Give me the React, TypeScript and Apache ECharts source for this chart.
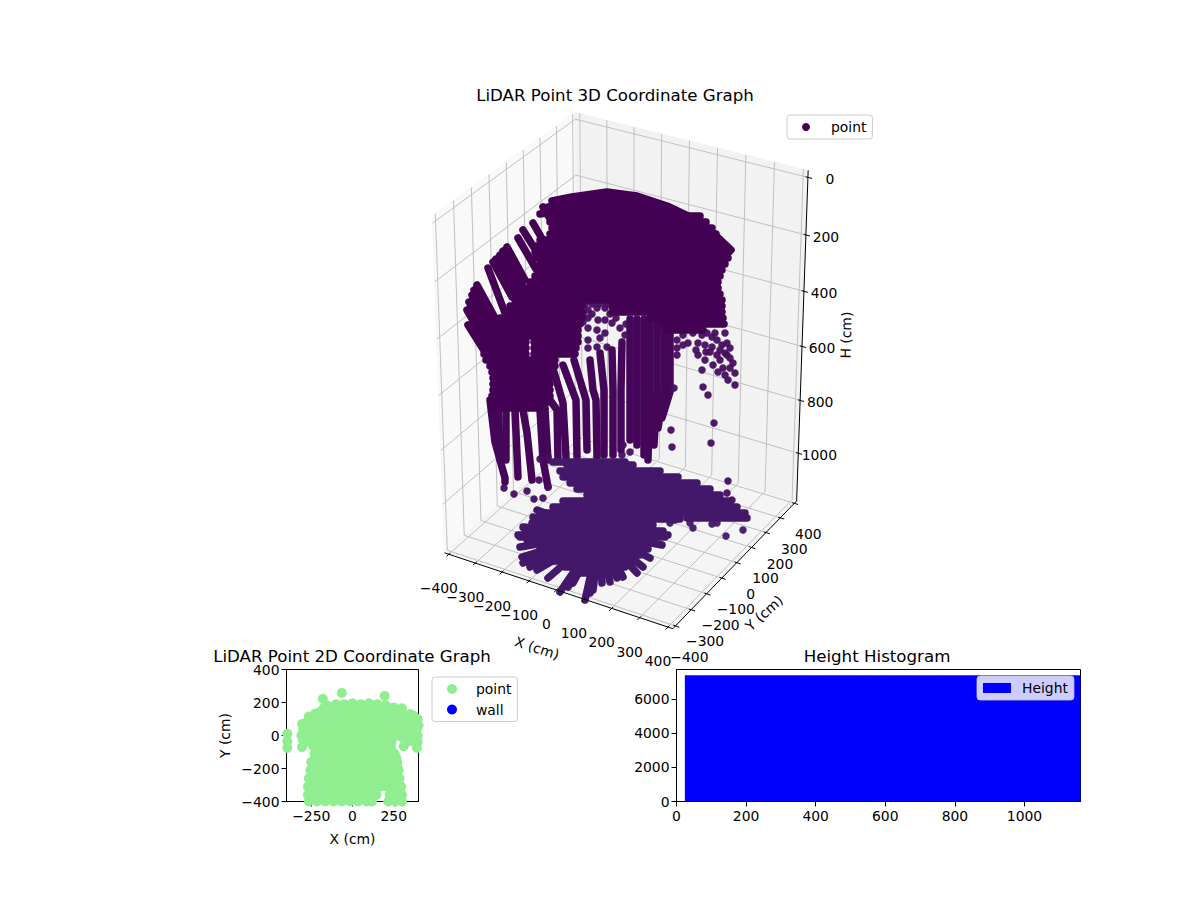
import React, { useEffect, useRef } from 'react';
import * as echarts from 'echarts';

const FONT = 'DejaVu Sans';

// tick values
const xTicks3d = [-400, -300, -200, -100, 0, 100, 200, 300, 400];
const yTicks3d = [-400, -300, -200, -100, 0, 100, 200, 300, 400];
const hTicks3d = [0, 200, 400, 600, 800, 1000];
const xTicks2d = [-250, 0, 250];
const histXTicks = [0, 200, 400, 600, 800, 1000];
const histYTicks = [0, 2000, 4000, 6000];

// histogram: one wide bin
const histEdges = [24, 1161];
const histCounts = [7386];

// The picture only gives the 3D cloud after projection, so its runs of touching
// points and its loose points are kept in projected view units [u, v].
const ceilingStrands: number[][][] = [
  [[152, 449], [172, 453], [207, 458], [237, 454], [267, 444], [290, 433], [312, 418], [331, 400]],
  [[148, 443], [172, 447], [207, 452], [237, 448], [265, 438], [288, 427], [308, 412], [326, 395]],
  [[140, 436], [172, 441], [207, 446], [237, 442], [263, 432], [285, 421], [304, 406], [322, 388]],
  [[143, 443], [160, 415]], [[133, 427], [160, 380]], [[123, 420], [145, 385]], [[118, 412], [136, 381]],
  [[107, 403], [125, 370]], [[103, 399], [122, 365]], [[100, 395], [120, 360]], [[96, 391], [116, 357]], [[93, 388], [112, 353]], [[88, 382], [105, 337]],
  [[77, 365], [100, 323]], [[74, 360], [98, 315]], [[72, 355], [97, 307]], [[69, 348], [95, 302]], [[67, 340], [92, 297]], [[68, 325], [90, 290]],
  [[160, 440], [275, 440]], [[150, 434], [300, 434]], [[150, 428], [306, 428]], [[152, 422], [312, 422]], [[150, 416], [316, 416]],
  [[140, 410], [320, 410]], [[135, 404], [326, 404]], [[135, 398], [329, 398]], [[135, 392], [328, 392]],
  [[140, 386], [325, 386]], [[140, 380], [322, 380]], [[135, 374], [320, 374]], [[130, 368], [318, 368]],
  [[125, 362], [318, 362]], [[120, 356], [320, 356]], [[115, 350], [322, 350]],
  [[110, 344], [182, 344]], [[212, 344], [322, 344]], [[105, 338], [182, 338]], [[212, 338], [322, 338]],
  [[100, 332], [182, 332]], [[250, 332], [323, 332]], [[98, 326], [180, 326]], [[262, 326], [324, 326]],
  [[93, 320], [178, 320]], [[268, 320], [303, 320]], [[90, 314], [178, 314]],
  [[88, 308], [126, 308]], [[134, 308], [178, 308]], [[86, 302], [126, 302]], [[134, 302], [176, 302]],
  [[84, 296], [126, 296]], [[134, 296], [175, 296]],
  [[86, 290], [155, 290]], [[90, 284], [155, 284]], [[92, 278], [150, 278]], [[93, 272], [150, 272]],
  [[93, 266], [150, 266]], [[93, 260], [150, 260]], [[92, 254], [150, 254]], [[92, 248], [148, 248]], [[92, 242], [145, 242]],
];

const wallStrands: number[][][] = [
  [[90, 250], [95, 208], [100, 190]],
  [[98, 250], [100, 190], [105, 172], [105, 168]],
  [[106, 250], [106, 190]],
  [[115, 240], [118, 173]],
  [[123, 240], [127, 217], [132, 170]],
  [[140, 240], [143, 190], [148, 163]],
  [[145, 240], [148, 190]],
  [[138, 285], [150, 250], [157, 240], [158, 190]],
  [[152, 285], [163, 247], [166, 193]],
  [[163, 285], [176, 250], [177, 193]],
  [[174, 290], [186, 250], [187, 200]],
  [[190, 290], [193, 260], [196, 250], [197, 193]],
  [[200, 297], [204, 260], [204, 195]],
  [[212, 300], [213, 260], [213, 195]],
  [[222, 308], [221, 260], [221, 200]],
  [[230, 331], [230, 210]],
  [[237, 331], [237, 205]],
  [[244, 331], [244, 195]],
  [[250, 331], [250, 260], [248, 190]],
  [[257, 331], [257, 260], [254, 205]],
  [[264, 331], [264, 260], [258, 222]],
  [[270, 322], [270, 258], [262, 232]],
];

const wallPoints = [
  [188, 340], [197, 342], [205, 342], [188, 332], [198, 330], [188, 322], [197, 320], [205, 330], [212, 327], [220, 322],
  [205, 317], [188, 310], [200, 312], [188, 302], [197, 303], [207, 303], [225, 315], [185, 346], [192, 346], [199, 346], [206, 346],
  [192, 336], [210, 336], [216, 332], [226, 326], [183, 336], [183, 328],
  [277, 310], [277, 302], [277, 295], [288, 307], [298, 307], [307, 317], [298, 295], [305, 290], [302, 280], [317, 310], [325, 317],
  [327, 307], [330, 302], [330, 292], [333, 287], [335, 277], [328, 270], [335, 265], [318, 278], [313, 285], [320, 290],
  [303, 263], [308, 255], [274, 262], [283, 315], [293, 317], [302, 315], [312, 303], [320, 300], [317, 295], [323, 282],
  [283, 305], [305, 305], [310, 298], [325, 297], [322, 305], [315, 317], [312, 313], [296, 300], [306, 298], [327, 295], [330, 282], [325, 275],
  [271, 220], [272, 203], [314, 227], [311, 207], [223, 205], [222, 195], [230, 198],
  [328, 169], [327, 157], [332, 150], [104, 162], [114, 156], [127, 159], [134, 151], [139, 170], [148, 163], [143, 152], [140, 191], [148, 193],
];

const floorRows: number[][][] = [
  [[153, 188], [225, 188]], [[167, 185], [233, 185]], [[160, 179], [260, 179]], [[163, 173], [278, 173]], [[170, 167], [297, 167]],
  [[177, 161], [310, 161]], [[187, 155], [320, 155]], [[163, 149], [330, 149]], [[153, 143], [337, 143]],
  [[140, 137], [345, 137]], [[135, 131], [280, 131]], [[287, 132], [347, 132]], [[133, 125], [253, 125]],
  [[125, 119], [263, 119]], [[120, 113], [265, 113]],
  [[135, 107], [250, 107]], [[140, 101], [248, 101]], [[145, 95], [240, 95]], [[150, 89], [232, 89]], [[165, 83], [225, 83]], [[175, 77], [220, 77]],
];
const floorRayHub = [200, 117];
const floorRayTips = [
  [118, 115], [120, 103], [122, 93], [123, 87], [130, 83], [137, 80], [148, 72], [160, 58], [168, 63], [173, 67],
  [185, 50], [190, 57], [193, 60], [202, 67], [210, 68], [217, 72], [223, 73], [237, 77], [243, 83], [250, 92],
  [262, 105], [268, 115], [127, 110], [123, 123], [132, 127], [133, 133], [137, 140],
];
const floorPoints = [[290, 127], [293, 122], [312, 126], [317, 127], [326, 114], [343, 120], [270, 127], [275, 130]];

// 2D footprint, in cm
const footprint = [
  [-65, 258], [-180, 222], [195, 240], [300, 165], [370, 120],
  [-395, 10], [-395, -35], [-395, -75], [-306, -70], [310, -65], [390, -75], [395, -40], [395, 0], [400, 60], [395, 100],
  [-150, 180], [-100, 190], [-50, 190], [0, 195], [50, 190], [100, 195], [150, 190], [200, 185], [250, 170],
  [-225, 133], [-265, 115], [-305, 70], [-310, 0], [-300, -30], [-200, 140], [-150, 140], [-100, 140], [-50, 140], [0, 140], [50, 140], [100, 140], [150, 140], [200, 140], [250, 140], [300, 130], [350, 130],
  [-270, 90], [-220, 90], [-170, 90], [-120, 90], [-70, 90], [-20, 90], [30, 90], [80, 90], [130, 90], [180, 90], [230, 90], [280, 90], [330, 90], [380, 90],
  [-300, 40], [-250, 40], [-200, 40], [-150, 40], [-100, 40], [-50, 40], [0, 40], [50, 40], [100, 40], [150, 40], [200, 40], [250, 40], [300, 40], [350, 40], [390, 40],
  [-300, -10], [-250, -10], [-200, -10], [-150, -10], [-100, -10], [-50, -10], [0, -10], [50, -10], [100, -10], [150, -10], [200, -10], [250, -10], [300, -10], [350, -10], [390, -10],
  [-240, -60], [-190, -60], [-140, -60], [-90, -60], [-40, -60], [10, -60], [60, -60], [110, -60], [160, -60], [210, -60], [235, -50],
  [-230, -110], [-180, -110], [-130, -110], [-80, -110], [-30, -110], [20, -110], [70, -110], [120, -110], [170, -110], [220, -110], [255, -110],
  [-250, -160], [-200, -160], [-150, -160], [-100, -160], [-50, -160], [0, -160], [50, -160], [100, -160], [150, -160], [200, -160], [250, -160], [270, -160],
  [-255, -210], [-205, -210], [-155, -210], [-105, -210], [-55, -210], [-5, -210], [45, -210], [95, -210], [145, -210], [195, -210], [245, -210], [280, -210],
  [-265, -260], [-215, -260], [-165, -260], [-115, -260], [-65, -260], [-15, -260], [35, -260], [85, -260], [135, -260], [185, -260], [235, -260], [285, -260],
  [-270, -310], [-220, -310], [-170, -310], [-120, -310], [-70, -310], [-20, -310], [30, -310], [80, -310], [130, -310], [170, -310], [210, -310], [250, -310], [295, -310],
  [-270, -360], [-220, -360], [-170, -360], [-120, -360], [-70, -360], [-20, -360], [30, -360], [80, -360], [125, -360], [145, -360], [226, -360], [265, -360], [300, -360],
  [-265, -400], [-215, -400], [-165, -400], [-115, -400], [-65, -400], [-15, -400], [35, -400], [85, -400], [117, -400], [217, -400], [260, -400], [300, -400],
  // second pass, between the rows above
  [-175, 165], [-125, 165], [-75, 165], [-25, 165], [25, 165], [75, 165], [125, 165], [175, 165], [225, 165],
  [-245, 115], [-195, 115], [-145, 115], [-95, 115], [-45, 115], [5, 115], [55, 115], [105, 115], [155, 115], [205, 115], [255, 115], [305, 115], [355, 115],
  [-275, 65], [-225, 65], [-175, 65], [-125, 65], [-75, 65], [-25, 65], [25, 65], [75, 65], [125, 65], [175, 65], [225, 65], [275, 65], [325, 65], [375, 65],
  [-275, 15], [-225, 15], [-175, 15], [-125, 15], [-75, 15], [-25, 15], [25, 15], [75, 15], [125, 15], [175, 15], [225, 15], [275, 15], [325, 15], [375, 15],
  [-275, -35], [-225, -35], [-175, -35], [-125, -35], [-75, -35], [-25, -35], [25, -35], [75, -35], [125, -35], [175, -35], [225, -35], [345, -35], [375, -35],
  [-215, -85], [-165, -85], [-115, -85], [-65, -85], [-15, -85], [35, -85], [85, -85], [135, -85], [185, -85], [235, -85],
  [-225, -135], [-175, -135], [-125, -135], [-75, -135], [-25, -135], [25, -135], [75, -135], [125, -135], [175, -135], [225, -135], [265, -135],
  [-230, -185], [-180, -185], [-130, -185], [-80, -185], [-30, -185], [20, -185], [70, -185], [120, -185], [170, -185], [220, -185], [270, -185],
  [-240, -235], [-190, -235], [-140, -235], [-90, -235], [-40, -235], [10, -235], [60, -235], [110, -235], [160, -235], [210, -235], [270, -235],
  [-245, -285], [-195, -285], [-145, -285], [-95, -285], [-45, -285], [5, -285], [55, -285], [105, -285], [155, -285], [210, -285], [260, -285],
  [-245, -335], [-195, -335], [-145, -335], [-95, -335], [-45, -335], [5, -335], [55, -335], [95, -335], [135, -335], [240, -335], [285, -335],
  [-245, -380], [-195, -380], [-145, -380], [-95, -380], [-45, -380], [5, -380], [55, -380], [85, -380], [235, -380], [280, -380],
];

// 3D frame: view transform of the box, fitted to the picture
const LIM = 416.7;
const H_TOP = -24;
const H_BOT = 1184;
const toView = (X: number, Y: number, H: number) => {
  const x = (0.4533 * X) / LIM;
  const y = (0.4533 * Y) / LIM;
  const z = 0.6525 * (1 - (2 * (H - H_TOP)) / (H_BOT - H_TOP));
  const s = 0.866 * x + 0.5 * y;
  const t = -0.25 * x + 0.433 * y + 0.866 * z;
  const d = 10 - (0.433 * x - 0.75 * y + 0.5 * z);
  return [623 + (2936 * s) / d - 400, 650 - (365.1 - (2950 * t) / d)];
};

const panes = [
  { fill: '#f9f9f9', pts: [toView(-LIM, -LIM, H_BOT), toView(-LIM, LIM, H_BOT), toView(-LIM, LIM, H_TOP), toView(-LIM, -LIM, H_TOP)] },
  { fill: '#f2f2f2', pts: [toView(-LIM, LIM, H_BOT), toView(LIM, LIM, H_BOT), toView(LIM, LIM, H_TOP), toView(-LIM, LIM, H_TOP)] },
  { fill: '#f5f5f5', pts: [toView(-LIM, -LIM, H_BOT), toView(LIM, -LIM, H_BOT), toView(LIM, LIM, H_BOT), toView(-LIM, LIM, H_BOT)] },
];

const gridLines3d: number[][][] = [
  ...xTicks3d.map((x) => [toView(x, -LIM, H_BOT), toView(x, LIM, H_BOT), toView(x, LIM, H_TOP)]),
  ...yTicks3d.map((y) => [toView(LIM, y, H_BOT), toView(-LIM, y, H_BOT), toView(-LIM, y, H_TOP)]),
  ...hTicks3d.map((h) => [toView(-LIM, -LIM, h), toView(-LIM, LIM, h), toView(LIM, LIM, h)]),
];

const axisLines3d: number[][][] = [
  [toView(-LIM, -LIM, H_BOT), toView(LIM, -LIM, H_BOT), toView(LIM, LIM, H_BOT), toView(LIM, LIM, H_TOP)],
  ...xTicks3d.map((x) => [toView(x, -LIM + 8, H_BOT), toView(x, -LIM - 14, H_BOT)]),
  ...yTicks3d.map((y) => [toView(LIM - 8, y, H_BOT), toView(LIM + 14, y, H_BOT)]),
  ...hTicks3d.map((h) => [toView(LIM - 8, LIM, h), toView(LIM + 14, LIM, h)]),
];

const fmt = (v: number) => String(v).replace('-', '\u2212');

type Label = { text: string; at: number[]; rot?: number };
const labels3d: Label[] = [
  ...xTicks3d.map((x) => {
    const p = toView(x, -LIM, H_BOT);
    return { text: fmt(x), at: [p[0] - 10, p[1] - 34] };
  }),
  ...yTicks3d.map((y) => {
    const p = toView(LIM, y, H_BOT);
    return { text: fmt(y), at: [p[0] + 14, p[1] - 31] };
  }),
  ...hTicks3d.map((h) => {
    const p = toView(LIM, LIM, h);
    return { text: fmt(h), at: [p[0] + 20 + (h >= 1000 ? 1 : h === 0 ? 2 : 0), p[1] - 2] };
  }),
  { text: 'X (cm)', at: [137, 2], rot: -0.31 },
  { text: 'Y (cm)', at: [364, 37], rot: 0.73 },
  { text: 'H (cm)', at: [446, 315], rot: 1.55 },
];

const strandSeries = (strands: number[][][], color: string, z: number) => ({
  type: 'custom',
  name: 'point',
  xAxisIndex: 0,
  yAxisIndex: 0,
  z,
  silent: true,
  itemStyle: { color },
  data: strands.map((_, i) => [i, 0]),
  renderItem: (params: any, api: any) => ({
    type: 'polyline',
    shape: { points: strands[params.dataIndex].map((p) => api.coord(p)) },
    style: { fill: 'none', stroke: color, lineWidth: 7.5, lineCap: 'round', lineJoin: 'round' },
  }),
});

const lineSeries = (lines: number[][][], color: string, width: number, z: number) => ({
  type: 'custom',
  xAxisIndex: 0,
  yAxisIndex: 0,
  z,
  silent: true,
  data: lines.map((_, i) => [i, 0]),
  renderItem: (params: any, api: any) => ({
    type: 'polyline',
    shape: { points: lines[params.dataIndex].map((p) => api.coord(p)) },
    style: { fill: 'none', stroke: color, lineWidth: width },
  }),
});

const axisText = { fontFamily: FONT, fontSize: 13.9, color: '#000' };
const titleText = { fontFamily: FONT, fontSize: 16.67, fontWeight: 'normal' as const, color: '#000' };
const black = { lineStyle: { color: '#000', width: 1 } };
const plain = (v: number) => String(v);

export default function App() {
  const chartRef = useRef<HTMLDivElement | null>(null);

  useEffect(() => {
    if (!chartRef.current) return;
    const chart = echarts.init(chartRef.current, undefined, { renderer: 'svg' });
    const floorStrands = [...floorRows, ...floorRayTips.map((tip) => [floorRayHub, tip])];
    chart.setOption({
      animation: false,
      backgroundColor: '#fff',
      title: [
        { text: 'LiDAR Point 3D Coordinate Graph', left: 615, top: 87, textAlign: 'center', textStyle: titleText, padding: 0 },
        { text: 'LiDAR Point 2D Coordinate Graph', left: 352, top: 648, textAlign: 'center', textStyle: titleText, padding: 0 },
        { text: 'Height Histogram', left: 877, top: 648, textAlign: 'center', textStyle: titleText, padding: 0 },
      ],
      legend: [
        {
          left: 787, top: 115, padding: [5, 6, 5, 15], itemWidth: 8, itemHeight: 8, selectedMode: false,
          borderColor: '#ccc', borderWidth: 1, borderRadius: 3, backgroundColor: 'rgba(255,255,255,0.8)',
          textStyle: { ...axisText, padding: [0, 0, 0, 16] },
          data: [{ name: 'point', icon: 'circle', itemStyle: { color: '#440154' } }],
        },
        {
          left: 432, top: 677, orient: 'vertical', padding: [5, 6, 5, 15], itemWidth: 10, itemHeight: 10, itemGap: 6.5, selectedMode: false,
          borderColor: '#ccc', borderWidth: 1, borderRadius: 3, backgroundColor: 'rgba(255,255,255,0.8)',
          textStyle: { ...axisText, padding: [0, 0, 0, 14] },
          data: [
            { name: 'point', icon: 'circle', itemStyle: { color: '#90ee90' } },
            { name: 'wall', icon: 'circle', itemStyle: { color: '#0000ff', opacity: 1 } },
          ],
        },
        {
          left: 977, top: 676, padding: [5, 6, 5, 6], itemWidth: 28, itemHeight: 10, selectedMode: false,
          borderColor: 'rgba(204,204,204,0.8)', borderWidth: 1, borderRadius: 3, backgroundColor: 'rgba(255,255,255,0.8)',
          textStyle: { ...axisText, padding: [0, 0, 0, 6] },
          data: [{ name: 'Height', icon: 'rect', itemStyle: { color: '#0000ff' } }],
        },
      ],
      grid: [
        { left: 400, top: 90, width: 500, height: 560, show: false },
        { left: 286.5, top: 669.5, width: 132, height: 132, show: true, borderColor: '#000', borderWidth: 1 },
        { left: 676.5, top: 669.5, width: 404, height: 132, show: true, borderColor: '#000', borderWidth: 1 },
      ],
      xAxis: [
        { gridIndex: 0, type: 'value', min: 0, max: 500, show: false },
        {
          gridIndex: 1, type: 'value', min: -400, max: 400, name: 'X (cm)', nameLocation: 'middle', nameGap: 30,
          nameTextStyle: axisText, splitLine: { show: false }, axisLine: { onZero: false, ...black },
          axisTick: { customValues: xTicks2d, length: 5, ...black },
          axisLabel: { customValues: xTicks2d, ...axisText, margin: 7, formatter: fmt },
        },
        {
          gridIndex: 2, type: 'value', min: 0, max: 1161, splitLine: { show: false }, axisLine: { onZero: false, ...black },
          axisTick: { customValues: histXTicks, length: 5, ...black },
          axisLabel: { customValues: histXTicks, ...axisText, margin: 7, formatter: plain },
        },
      ],
      yAxis: [
        { gridIndex: 0, type: 'value', min: 0, max: 560, show: false },
        {
          gridIndex: 1, type: 'value', min: -400, max: 400, interval: 200, name: 'Y (cm)', nameLocation: 'middle', nameGap: 55,
          nameTextStyle: axisText, splitLine: { show: false }, axisLine: { onZero: false, ...black },
          axisTick: { length: 5, ...black },
          axisLabel: { ...axisText, margin: 7, formatter: fmt },
        },
        {
          gridIndex: 2, type: 'value', min: 0, max: 7720, splitLine: { show: false }, axisLine: { onZero: false, ...black },
          axisTick: { customValues: histYTicks, length: 5, ...black },
          axisLabel: { customValues: histYTicks, ...axisText, margin: 7, formatter: plain },
        },
      ],
      series: [
        {
          type: 'custom', xAxisIndex: 0, yAxisIndex: 0, z: 1, silent: true,
          data: panes.map((_, i) => [i, 0]),
          renderItem: (params: any, api: any) => ({
            type: 'polygon',
            shape: { points: panes[params.dataIndex].pts.map((p) => api.coord(p)) },
            style: { fill: panes[params.dataIndex].fill, stroke: '#eeeeee', lineWidth: 0.5 },
          }),
        },
        lineSeries(gridLines3d, '#c0c0c0', 1, 2),
        strandSeries(wallStrands, '#450659', 3),
        { type: 'scatter', name: 'point', xAxisIndex: 0, yAxisIndex: 0, z: 3, silent: true, symbolSize: 7.5, itemStyle: { color: '#470d60', opacity: 0.95 }, data: wallPoints },
        strandSeries(ceilingStrands, '#440154', 4),
        strandSeries(floorStrands, '#43186a', 5),
        { type: 'scatter', name: 'point', xAxisIndex: 0, yAxisIndex: 0, z: 5, silent: true, symbolSize: 7.5, itemStyle: { color: '#43186a', opacity: 0.95 }, data: floorPoints },
        lineSeries(axisLines3d, '#000', 1, 6),
        {
          type: 'custom', xAxisIndex: 0, yAxisIndex: 0, z: 7, silent: true,
          data: labels3d.map((_, i) => [i, 0]),
          renderItem: (params: any, api: any) => {
            const l = labels3d[params.dataIndex];
            const c = api.coord(l.at);
            return {
              type: 'text', x: c[0], y: c[1], rotation: l.rot || 0,
              style: { text: l.text, fill: '#000', fontFamily: FONT, fontSize: 13.9, align: 'center', verticalAlign: 'middle' },
            };
          },
        },
        { type: 'scatter', name: 'point', xAxisIndex: 1, yAxisIndex: 1, symbolSize: 10, silent: true, itemStyle: { color: '#90ee90', opacity: 1 }, data: footprint },
        { type: 'scatter', name: 'wall', xAxisIndex: 1, yAxisIndex: 1, symbolSize: 10, silent: true, itemStyle: { color: '#0000ff', opacity: 1 }, data: [] },
        {
          type: 'custom', name: 'Height', xAxisIndex: 2, yAxisIndex: 2, silent: true, clip: true, itemStyle: { color: '#0000ff' },
          data: histCounts.map((c, i) => [histEdges[i], c, histEdges[i + 1]]),
          renderItem: (_: any, api: any) => {
            const p0 = api.coord([api.value(0), api.value(1)]);
            const p1 = api.coord([api.value(2), 0]);
            return { type: 'rect', shape: { x: p0[0], y: p0[1], width: p1[0] - p0[0], height: p1[1] - p0[1] }, style: { fill: '#0000ff' } };
          },
        },
      ],
    });
    return () => chart.dispose();
  }, []);

  return <div ref={chartRef} style={{ position: 'absolute', left: 0, top: 0, width: 1200, height: 900 }} />;
}
